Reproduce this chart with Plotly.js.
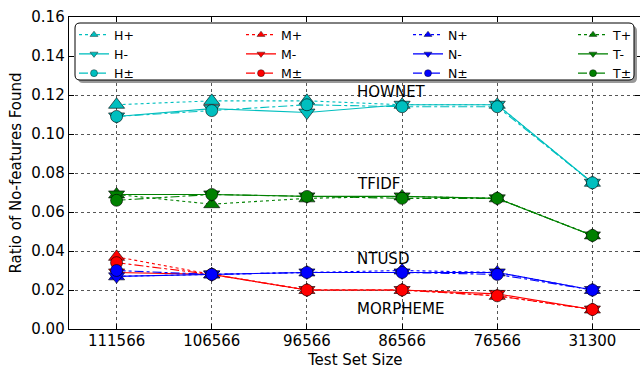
<!DOCTYPE html>
<html>
<head>
<meta charset="utf-8">
<script src="https://cdn.plot.ly/plotly-3.0.1.min.js"></script>
<style>html,body{margin:0;padding:0;background:#fff;}#chart{width:640px;height:368px;}</style>
</head>
<body>
<div id="chart"></div>
<script>
// ---- data ----
const categories = ['111566', '106566', '96566', '86566', '76566', '31300'];

const hPlus  = [0.115, 0.117, 0.117, 0.115, 0.115, 0.075];
const hMinus = [0.109, 0.113, 0.111, 0.115, 0.115, 0.075];
const hPM    = [0.109, 0.112, 0.115, 0.114, 0.114, 0.075];

const mPlus  = [0.037, 0.028, 0.020, 0.020, 0.017, 0.010];
const mMinus = [0.029, 0.028, 0.020, 0.020, 0.018, 0.010];
const mPM    = [0.034, 0.028, 0.020, 0.020, 0.017, 0.010];

const nPlus  = [0.027, 0.028, 0.029, 0.030, 0.029, 0.020];
const nMinus = [0.027, 0.028, 0.029, 0.029, 0.029, 0.020];
const nPM    = [0.030, 0.028, 0.029, 0.029, 0.028, 0.020];

const tPlus  = [0.069, 0.064, 0.067, 0.068, 0.067, 0.048];
const tMinus = [0.069, 0.069, 0.068, 0.068, 0.067, 0.048];
const tPM    = [0.066, 0.069, 0.068, 0.067, 0.067, 0.048];

const groupLetters = ['H', 'M', 'N', 'T'];
const groupColors = ['#00bfbf', '#ff0000', '#0000ff', '#008000'];
const groupSeries = [[hPlus, hMinus, hPM], [mPlus, mMinus, mPM], [nPlus, nMinus, nPM], [tPlus, tMinus, tPM]];
const variantSuffix = ['+', '-', '±'];
const variantSymbols = ['triangle-up', 'triangle-down', 'circle'];
const variantDash = ['dot', 'solid', 'dashdot'];

const labelTexts = ['HOWNET', 'TFIDF', 'NTUSD', 'MORPHEME'];
const labelY = [0.1215, 0.0745, 0.0358, 0.0105];
const labelX = 2.5;

const xTitle = 'Test Set Size';
const yTitle = 'Ratio of No-features Found';
const yTickVals = [0, 0.02, 0.04, 0.06, 0.08, 0.10, 0.12, 0.14, 0.16];
const yTickText = ['0.00', '0.02', '0.04', '0.06', '0.08', '0.10', '0.12', '0.14', '0.16'];

// ---- traces ----
const traces = [];
const legendIds = ['legend', 'legend2', 'legend3', 'legend4'];
groupSeries.forEach((series, g) => {
  series.forEach((vals, v) => {
    traces.push({
      type: 'scatter', mode: 'lines+markers',
      x: categories, y: vals,
      name: groupLetters[g] + variantSuffix[v],
      showlegend: false,
      line: {color: groupColors[g], width: 1.1, dash: variantDash[v]},
      marker: {symbol: variantSymbols[v], size: v === 2 ? 12 : 14, color: groupColors[g],
               line: {color: '#000', width: 0.6}}
    });
  });
});
// legend proxies (smaller markers, like the reference legend)
groupSeries.forEach((series, g) => {
  series.forEach((vals, v) => {
    traces.push({
      type: 'scatter', mode: 'lines+markers',
      x: [null], y: [null],
      name: groupLetters[g] + variantSuffix[v],
      legend: legendIds[g],
      showlegend: true,
      line: {color: groupColors[g], width: 1.3, dash: variantDash[v]},
      marker: {symbol: variantSymbols[v], size: 7, color: groupColors[g],
               line: {color: '#000', width: 0.4}}
    });
  });
});

// ---- layout helpers (pixel -> paper) ----
const L = 69, R = 0, T = 17, B = 39, W = 640, H = 368;
const pw = W - L - R, ph = H - T - B;
const px = p => (p - L) / pw;
const py = p => (H - B - p) / ph;

function roundRect(x0p, y0p, x1p, y1p, r) {
  const x0 = px(x0p), x1 = px(x1p), yt = py(y0p), yb = py(y1p);
  const rx = r / pw, ry = r / ph;
  return `M${x0 + rx},${yt} L${x1 - rx},${yt} Q${x1},${yt} ${x1},${yt - ry} L${x1},${yb + ry} Q${x1},${yb} ${x1 - rx},${yb} L${x0 + rx},${yb} Q${x0},${yb} ${x0},${yb + ry} L${x0},${yt - ry} Q${x0},${yt} ${x0 + rx},${yt} Z`;
}

const legendCommon = {
  orientation: 'v', bgcolor: 'rgba(0,0,0,0)', borderwidth: 0,
  font: {family: 'DejaVu Sans', size: 12.5, color: '#000'},
  yanchor: 'top', xanchor: 'left', y: py(20), tracegroupgap: 0
};
const colLeft = [74, 241, 408, 573];

const font = {family: 'DejaVu Sans', size: 15, color: '#000'};
const layout = {
  width: W, height: H,
  margin: {l: L, r: R, t: T, b: B, pad: 0},
  paper_bgcolor: '#fff', plot_bgcolor: '#fff',
  font: font,
  xaxis: {
    type: 'category', range: [-0.5, 5.5],
    showline: true, linecolor: '#000', linewidth: 1.3, mirror: 'allticks',
    ticks: 'inside', ticklen: 5, tickcolor: '#000', tickwidth: 1,
    showgrid: true, gridcolor: '#444', griddash: 'dot', gridwidth: 0.9,
    tickfont: font, zeroline: false, ticklabelstandoff: -2
  },
  yaxis: {
    range: [0, 0.16], tickvals: yTickVals, ticktext: yTickText,
    showline: true, linecolor: '#000', linewidth: 1.3, mirror: 'allticks',
    ticks: 'inside', ticklen: 5, tickcolor: '#000', tickwidth: 1,
    showgrid: true, gridcolor: '#444', griddash: 'dot', gridwidth: 0.9,
    tickfont: font, zeroline: false,
    title: {text: yTitle, font: {family: 'DejaVu Sans', size: 15, color: '#000'}, standoff: 6}
  },
  shapes: [
    {type: 'path', xref: 'paper', yref: 'paper', layer: 'above',
     path: roundRect(78, 26, 637, 83, 5), fillcolor: '#999', line: {width: 0}},
    {type: 'path', xref: 'paper', yref: 'paper', layer: 'above',
     path: roundRect(75, 23, 634, 80, 5), fillcolor: '#fff', line: {color: '#000', width: 1}}
  ],
  annotations: labelTexts.map((t, i) => ({
    x: labelX, y: labelY[i], xref: 'x', yref: 'y', text: t, showarrow: false,
    xanchor: 'left', yanchor: 'middle', font: {family: 'DejaVu Sans', size: 15, color: '#000'}
  })).concat([{
    x: 0.5, y: py(359.5), xref: 'paper', yref: 'paper', text: xTitle, showarrow: false,
    xanchor: 'center', yanchor: 'middle', font: font
  }]),
  showlegend: true
};
legendIds.forEach((id, g) => {
  layout[id] = Object.assign({}, legendCommon, {x: px(colLeft[g])});
});

Plotly.newPlot('chart', traces, layout, {displayModeBar: false, staticPlot: true});
</script>
</body>
</html>
